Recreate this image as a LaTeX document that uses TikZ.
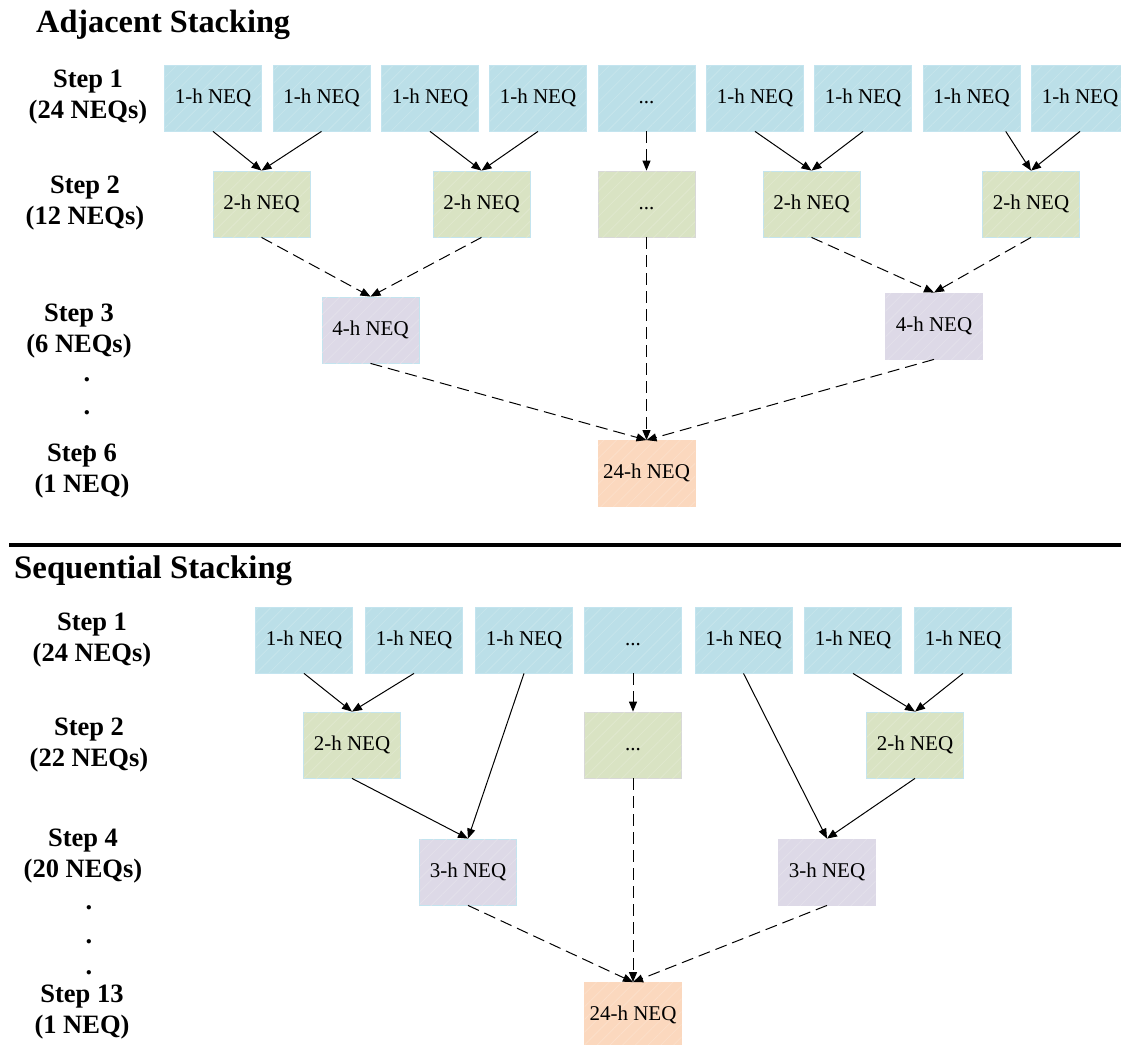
\documentclass[tikz,border=0pt]{standalone}
\usepackage{fontspec}
\setmainfont{Liberation Serif}
\usetikzlibrary{arrows.meta,patterns.meta,calc}

\definecolor{neqblue}{HTML}{BBDFE8}
\definecolor{neqgreen}{HTML}{D9E3C3}
\definecolor{neqpurple}{HTML}{DDD9E7}
\definecolor{neqorange}{HTML}{FBD8BE}
\definecolor{edgeblue}{HTML}{C3E4EF}
\definecolor{edgegray}{HTML}{D8D8D8}

\tikzset{
  neqbox/.style={draw=edgeblue, line width=0.8pt, minimum width=97pt,
    minimum height=66pt, inner sep=0pt, text height=14.5pt, text depth=4.5pt,
    font=\fontsize{21}{24}\selectfont, fill=#1,
    postaction={pattern={Lines[angle=45,distance=9pt,line width=0.8pt]},
      pattern color=#1!82!white}},
  hourone/.style={neqbox=neqblue},
  hourtwo/.style={neqbox=neqgreen},
  hourmid/.style={neqbox=neqpurple},
  hourday/.style={neqbox=neqorange, draw=neqorange},
  steplabel/.style={font=\fontsize{26.5}{31}\selectfont\bfseries, align=center},
  dotlabel/.style={font=\fontsize{26.5}{31}\selectfont\bfseries, inner sep=0pt},
  sectitle/.style={font=\bfseries, anchor=west, inner sep=0pt},
  solidarrow/.style={-{Triangle[length=10pt,width=8pt]}, line width=1pt},
  dasharrow/.style={solidarrow, dash pattern=on 12pt off 6pt},
}

\begin{document}
\begin{tikzpicture}[x=1pt,y=-1pt]
\useasboundingbox (0,0) rectangle (1121,1044);

% ---------------- Adjacent stacking ----------------
\node[sectitle, font=\fontsize{32.3}{36}\selectfont\bfseries] (titleA) at (36,25) {Adjacent Stacking};

\node[steplabel] (la1) at (88,97.5) {Step 1\\(24 NEQs)};
\node[steplabel] (la2) at (85,203) {Step 2\\(12 NEQs)};
\node[steplabel] (la3) at (79,331) {Step 3\\(6 NEQs)};
\node[dotlabel] (lad1) at (87,380) {.};
\node[dotlabel] (lad2) at (87,413) {.};
\node[steplabel] (la6) at (82,471) {Step 6\\(1 NEQ)};
\node[dotlabel] (lad3) at (87,448) {.};

% step 1
\node[hourone] (a1) at (213,98) {1-h NEQ};
\node[hourone] (a2) at (321.5,98) {1-h NEQ};
\node[hourone] (a3) at (430,98) {1-h NEQ};
\node[hourone] (a4) at (538,98) {1-h NEQ};
\node[hourone] (a5) at (646.5,98) {...};
\node[hourone] (a6) at (755,98) {1-h NEQ};
\node[hourone] (a7) at (863,98) {1-h NEQ};
\node[hourone] (a8) at (971.5,98) {1-h NEQ};
\node[hourone] (a9) at (1080,98) {1-h NEQ};
% step 2
\node[hourtwo] (b1) at (261.5,204) {2-h NEQ};
\node[hourtwo] (b2) at (481.5,204) {2-h NEQ};
\node[hourtwo, draw=edgegray] (b3) at (646.5,204) {...};
\node[hourtwo] (b4) at (811.5,204) {2-h NEQ};
\node[hourtwo] (b5) at (1031,204) {2-h NEQ};
% step 3
\node[hourmid] (c1) at (370.5,330) {4-h NEQ};
\node[hourmid, draw=neqpurple] (c2) at (934,326) {4-h NEQ};
% final
\node[hourday] (d1) at (646.5,473.5) {24-h NEQ};

\draw[solidarrow] (a1.south) -- (b1.north);
\draw[solidarrow] (a2.south) -- (b1.north);
\draw[solidarrow] (a3.south) -- (b2.north);
\draw[solidarrow] (a4.south) -- (b2.north);
\draw[dasharrow] (a5.south) -- (b3.north);
\draw[solidarrow] (a6.south) -- (b4.north);
\draw[solidarrow] (a7.south) -- (b4.north);
\draw[solidarrow] ($(a8.south west)!0.85!(a8.south east)$) -- (b5.north);
\draw[solidarrow] (a9.south) -- (b5.north);

\draw[dasharrow] (b1.south) -- (c1.north);
\draw[dasharrow] (b2.south) -- (c1.north);
\draw[dasharrow] (b4.south) -- (c2.north);
\draw[dasharrow] (b5.south) -- (c2.north);

\draw[dasharrow] (c1.south) -- (d1.north);
\draw[dasharrow] (b3.south) -- (d1.north);
\draw[dasharrow] (c2.south) -- (d1.north);

% separator
\draw[line width=4pt] (9,545) -- (1121,545);

% ---------------- Sequential stacking ----------------
\node[sectitle, font=\fontsize{32.8}{36}\selectfont\bfseries] (titleS) at (14,571) {Sequential Stacking};

\node[steplabel] (ls1) at (92,640) {Step 1\\(24 NEQs)};
\node[steplabel] (ls2) at (89,745) {Step 2\\(22 NEQs)};
\node[steplabel] (ls4) at (83,856) {Step 4\\(20 NEQs)};
\node[dotlabel] (lsd1) at (89,908) {.};
\node[dotlabel] (lsd2) at (89,942) {.};
\node[dotlabel] (lsd3) at (89,973) {.};
\node[steplabel] (ls13) at (82,1012) {Step 13\\(1 NEQ)};

% step 1
\node[hourone] (s1) at (304,640) {1-h NEQ};
\node[hourone] (s2) at (414,640) {1-h NEQ};
\node[hourone] (s3) at (524,640) {1-h NEQ};
\node[hourone] (s4) at (633,640) {...};
\node[hourone] (s5) at (743.5,640) {1-h NEQ};
\node[hourone] (s6) at (853,640) {1-h NEQ};
\node[hourone] (s7) at (963,640) {1-h NEQ};
% step 2
\node[hourtwo] (t1) at (352,745) {2-h NEQ};
\node[hourtwo, draw=edgegray] (t2) at (633,745) {...};
\node[hourtwo] (t3) at (915,745) {2-h NEQ};
% step 4
\node[hourmid] (u1) at (468,872) {3-h NEQ};
\node[hourmid, draw=neqpurple] (u2) at (827,872) {3-h NEQ};
% final
\node[hourday] (v1) at (633,1015.5) {24-h NEQ};

\draw[solidarrow] (s1.south) -- (t1.north);
\draw[solidarrow] (s2.south) -- (t1.north);
\draw[solidarrow] (s3.south) -- (u1.north);
\draw[dasharrow] (s4.south) -- (t2.north);
\draw[solidarrow] (s5.south) -- (u2.north);
\draw[solidarrow] (s6.south) -- (t3.north);
\draw[solidarrow] (s7.south) -- (t3.north);

\draw[solidarrow] (t1.south) -- (u1.north);
\draw[solidarrow] (t3.south) -- (u2.north);

\draw[dasharrow] (u1.south) -- (v1.north);
\draw[dasharrow] (t2.south) -- (v1.north);
\draw[dasharrow] (u2.south) -- (v1.north);
\end{tikzpicture}
\end{document}
